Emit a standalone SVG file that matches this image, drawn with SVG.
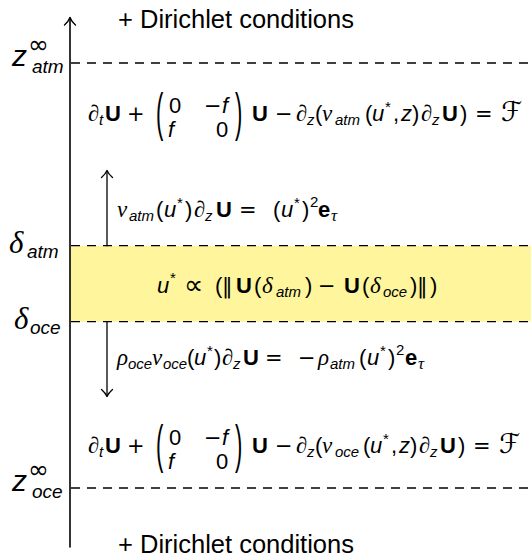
<svg xmlns="http://www.w3.org/2000/svg" width="531" height="558" viewBox="0 0 531 558">
<style>
text{font-family:"Liberation Sans","DejaVu Sans",sans-serif;fill:#000;font-size:22px}
.it{font-style:italic}
.bf{font-weight:bold}
.gr{font-family:"Liberation Serif","DejaVu Serif",serif;font-style:italic;font-size:23px}
.op{font-family:"DejaVu Sans",sans-serif;font-size:21px}
.prop{font-family:"DejaVu Sans",sans-serif;font-size:27px}
.sb{font-size:15px}
.sbi{font-size:15px;font-style:italic}
.sbg{font-family:"Liberation Serif","DejaVu Serif",serif;font-style:italic;font-size:17px}
.cal{font-family:"DejaVu Sans",sans-serif;font-style:italic;font-size:27px}
.lbl{font-size:30px;font-style:italic}
.lblg{font-family:"Liberation Serif","DejaVu Serif",serif;font-style:italic;font-size:31px}
.lsub{font-size:19px;font-style:italic}
.inf{font-family:"DejaVu Sans",sans-serif;font-size:25px}
.dir{font-size:25.5px}
.dash{stroke:#000;stroke-width:1.3;stroke-dasharray:9 7;fill:none}
.ln{stroke:#000;fill:none;stroke-linecap:round;stroke-linejoin:round}
</style>
<rect id="band" x="70" y="245.7" width="461" height="76" fill="#FEF59C"/>
<g id="connectors">
<line class="dash" x1="71" y1="63" x2="531" y2="63"/>
<line class="dash" x1="71" y1="245.7" x2="531" y2="245.7"/>
<line class="dash" x1="71" y1="321.7" x2="531" y2="321.7"/>
<line class="dash" x1="71" y1="488" x2="531" y2="488"/>
<path class="ln" stroke-width="1.6" d="M70,547V18"/>
<path class="ln" stroke-width="1.4" d="M64.5,25Q68.5,21.5 70,17.5Q71.5,21.5 75.5,25"/>
<path class="ln" stroke-width="1.3" d="M107,245.7V171"/>
<path class="ln" stroke-width="1.3" d="M101.5,177.5Q105.5,174 107,170.5Q108.5,174 112.5,177.5"/>
<path class="ln" stroke-width="1.3" d="M107,321.7V396"/>
<path class="ln" stroke-width="1.3" d="M101.5,389.5Q105.5,393 107,396.5Q108.5,393 112.5,389.5"/>
</g>
<g id="dirichlet-top"><text class="dir" x="118" y="28">+ Dirichlet conditions</text></g>
<g id="dirichlet-bottom"><text class="dir" x="118" y="553">+ Dirichlet conditions</text></g>
<g id="label-zatm"><text><tspan class="lbl" x="12" y="66">z</tspan><tspan class="inf" x="28" y="53">∞</tspan><tspan class="lsub" x="32" y="73">atm</tspan></text></g>
<g id="label-zoce"><text><tspan class="lbl" x="12" y="491">z</tspan><tspan class="inf" x="28" y="478">∞</tspan><tspan class="lsub" x="32" y="498">oce</tspan></text></g>
<g id="label-datm"><text><tspan class="lblg" x="9" y="253">δ</tspan><tspan class="lsub" x="27" y="258">atm</tspan></text></g>
<g id="label-doce"><text><tspan class="lblg" x="14" y="329">δ</tspan><tspan class="lsub" x="30" y="334">oce</tspan></text></g>
<g id="eq-atm">
<text><tspan class="gr" x="88" y="121">∂</tspan><tspan class="sbi" x="99" y="125">t</tspan><tspan class="bf" x="105" y="121">U</tspan><tspan class="op" x="127" y="121">+</tspan><tspan x="169" y="113">0</tspan><tspan class="op" x="204" y="113">−</tspan><tspan class="it" x="222" y="113">f</tspan><tspan class="it" x="168" y="137">f</tspan><tspan x="216" y="137">0</tspan><tspan class="bf" x="252" y="121">U</tspan><tspan class="op" x="275" y="121">−</tspan><tspan class="gr" x="296" y="121">∂</tspan><tspan class="sbi" x="307" y="125">z</tspan><tspan x="315" y="121">(</tspan><tspan class="gr" x="322" y="121">ν</tspan><tspan class="sbi" x="335" y="125">atm</tspan><tspan x="365" y="121">(</tspan><tspan class="it" x="372" y="121">u</tspan><tspan class="sb" x="385" y="112">*</tspan><tspan x="393" y="121">,</tspan><tspan class="it" x="401" y="121">z</tspan><tspan x="412" y="121">)</tspan><tspan class="gr" x="421" y="121">∂</tspan><tspan class="sbi" x="432" y="125">z</tspan><tspan class="bf" x="442" y="121">U</tspan><tspan x="460" y="121">)</tspan><tspan class="op" x="475" y="121">=</tspan><tspan class="cal" x="501" y="121">ℱ</tspan></text>
<text transform="translate(156,129.5) scale(1,2.35)">(</text>
<text transform="translate(235,129.5) scale(1,2.35)">)</text>
</g>
<g id="eq-oce">
<text><tspan class="gr" x="88" y="453">∂</tspan><tspan class="sbi" x="99" y="457">t</tspan><tspan class="bf" x="105" y="453">U</tspan><tspan class="op" x="127" y="453">+</tspan><tspan x="169" y="445">0</tspan><tspan class="op" x="204" y="445">−</tspan><tspan class="it" x="222" y="445">f</tspan><tspan class="it" x="168" y="469">f</tspan><tspan x="216" y="469">0</tspan><tspan class="bf" x="252" y="453">U</tspan><tspan class="op" x="275" y="453">−</tspan><tspan class="gr" x="296" y="453">∂</tspan><tspan class="sbi" x="307" y="457">z</tspan><tspan x="315" y="453">(</tspan><tspan class="gr" x="322" y="453">ν</tspan><tspan class="sbi" x="335" y="457">oce</tspan><tspan x="363" y="453">(</tspan><tspan class="it" x="370" y="453">u</tspan><tspan class="sb" x="383" y="444">*</tspan><tspan x="391" y="453">,</tspan><tspan class="it" x="399" y="453">z</tspan><tspan x="410" y="453">)</tspan><tspan class="gr" x="419" y="453">∂</tspan><tspan class="sbi" x="430" y="457">z</tspan><tspan class="bf" x="440" y="453">U</tspan><tspan x="458" y="453">)</tspan><tspan class="op" x="473" y="453">=</tspan><tspan class="cal" x="499" y="453">ℱ</tspan></text>
<text transform="translate(156,461.5) scale(1,2.35)">(</text>
<text transform="translate(235,461.5) scale(1,2.35)">)</text>
</g>
<g id="flux-atm">
<text><tspan class="gr" x="117" y="217">ν</tspan><tspan class="sbi" x="129" y="221">atm</tspan><tspan x="156" y="217">(</tspan><tspan class="it" x="164" y="217">u</tspan><tspan class="sb" x="177" y="208">*</tspan><tspan x="185" y="217">)</tspan><tspan class="gr" x="194" y="217">∂</tspan><tspan class="sbi" x="205" y="221">z</tspan><tspan class="bf" x="216" y="217">U</tspan><tspan class="op" x="239" y="217">=</tspan><tspan x="273" y="217">(</tspan><tspan class="it" x="281" y="217">u</tspan><tspan class="sb" x="294" y="208">*</tspan><tspan x="302" y="217">)</tspan><tspan class="sb" x="310" y="207">2</tspan><tspan class="bf" x="318" y="217">e</tspan><tspan class="sbg" x="331" y="221">τ</tspan></text>
</g>
<g id="friction">
<text><tspan class="it" x="157" y="293">u</tspan><tspan class="sb" x="170" y="283">*</tspan><tspan class="prop" x="184" y="294">∝</tspan><tspan x="215" y="293">(</tspan><tspan class="op" x="222" y="293">‖</tspan><tspan class="bf" x="236" y="293">U</tspan><tspan x="254" y="293">(</tspan><tspan class="gr" x="262" y="293">δ</tspan><tspan class="sbi" x="276" y="297">atm</tspan><tspan x="305" y="293">)</tspan><tspan class="op" x="318" y="293">−</tspan><tspan class="bf" x="344" y="293">U</tspan><tspan x="362" y="293">(</tspan><tspan class="gr" x="370" y="293">δ</tspan><tspan class="sbi" x="383" y="297">oce</tspan><tspan x="410" y="293">)</tspan><tspan class="op" x="417" y="293">‖</tspan><tspan x="430" y="293">)</tspan></text>
</g>
<g id="flux-oce">
<text><tspan class="gr" x="117" y="365">ρ</tspan><tspan class="sbi" x="128" y="369">oce</tspan><tspan class="gr" x="152" y="365">ν</tspan><tspan class="sbi" x="163" y="369">oce</tspan><tspan x="187" y="365">(</tspan><tspan class="it" x="194" y="365">u</tspan><tspan class="sb" x="207" y="356">*</tspan><tspan x="214" y="365">)</tspan><tspan class="gr" x="222" y="365">∂</tspan><tspan class="sbi" x="233" y="369">z</tspan><tspan class="bf" x="243" y="365">U</tspan><tspan class="op" x="265" y="365">=</tspan><tspan class="op" x="298" y="365">−</tspan><tspan class="gr" x="318" y="365">ρ</tspan><tspan class="sbi" x="330" y="369">atm</tspan><tspan x="359" y="365">(</tspan><tspan class="it" x="367" y="365">u</tspan><tspan class="sb" x="380" y="356">*</tspan><tspan x="388" y="365">)</tspan><tspan class="sb" x="396" y="355">2</tspan><tspan class="bf" x="405" y="365">e</tspan><tspan class="sbg" x="418" y="369">τ</tspan></text>
</g>
</svg>
